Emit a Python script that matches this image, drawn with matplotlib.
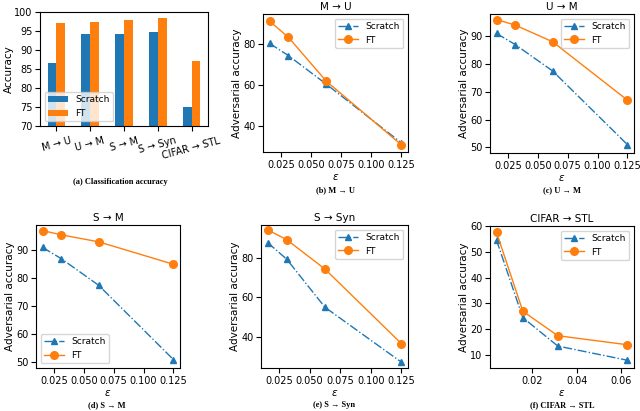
#!/usr/bin/env python3
"""Clean accuracy bars plus adversarial accuracy curves for five transfer tasks."""

import matplotlib

matplotlib.use("Agg")
import matplotlib.pyplot as plt
import numpy as np

BLUE = "#1f77b4"
ORANGE = "#ff7f0e"

# (a) classification accuracy
tasks = ["M → U", "U → M", "S → M", "S → Syn", "CIFAR → STL"]
acc_scratch = [86.7, 94.3, 94.3, 94.8, 75.0]
acc_ft = [97.2, 97.3, 97.8, 98.3, 87.2]

# adversarial accuracy vs epsilon
eps_digits = [0.015625, 0.03125, 0.0625, 0.125]
eps_cifar = [0.0039, 0.0157, 0.0314, 0.0627]
digit_ticks = [0.025, 0.050, 0.075, 0.100, 0.125]
cifar_ticks = [0.02, 0.04, 0.06]

mu_scratch = [80.5, 74.5, 60.5, 31.5]
mu_ft = [91.5, 83.5, 62.0, 30.5]
um_scratch = [91.0, 87.0, 77.5, 51.0]
um_ft = [96.0, 94.0, 88.0, 67.0]
sm_scratch = [91.0, 87.0, 77.5, 51.0]
sm_ft = [97.0, 95.5, 93.0, 85.0]
ssyn_scratch = [88.0, 79.5, 55.0, 27.0]
ssyn_ft = [94.5, 89.5, 74.5, 36.5]
cs_scratch = [54.5, 24.5, 13.5, 8.0]
cs_ft = [57.5, 27.0, 17.5, 14.0]

W, H = 640, 411


def rect(x0, x1, y0, y1):
    return [x0 / W, 1 - y1 / H, (x1 - x0) / W, (y1 - y0) / H]


fig = plt.figure(figsize=(6.4, 4.11), dpi=100)

# bar panel
ax = fig.add_axes(rect(40, 208, 12, 126))
x = np.arange(len(tasks))
bw = 0.26
ax.bar(x - bw / 2, acc_scratch, bw, color=BLUE, label="Scratch")
ax.bar(x + bw / 2, acc_ft, bw, color=ORANGE, label="FT")
ax.set_ylim(70, 100)
ax.set_yticks([70, 75, 80, 85, 90, 95, 100])
ax.set_xticks(x)
ax.set_xticklabels(tasks, rotation=15, fontsize=7)
ax.tick_params(axis="y", labelsize=7, pad=2)
ax.set_ylabel("Accuracy", fontsize=7.5, labelpad=0)
ax.legend(loc="lower left", fontsize=6.5, handlelength=2.2)

line_panels = [
    (rect(263, 408, 14, 152), eps_digits, mu_scratch, mu_ft, "M → U", "upper right", [40, 60, 80], (27, 95)),
    (rect(490, 634, 14, 153), eps_digits, um_scratch, um_ft, "U → M", "upper right", [50, 60, 70, 80, 90], (48, 98)),
    (rect(36, 180, 225, 368), eps_digits, sm_scratch, sm_ft, "S → M", "lower left", [50, 60, 70, 80, 90], (48, 99)),
    (rect(261, 408, 225, 368), eps_digits, ssyn_scratch, ssyn_ft, "S → Syn", "upper right", [40, 60, 80], (24, 97)),
    (rect(490, 634, 226, 368), eps_cifar, cs_scratch, cs_ft, "CIFAR → STL", "upper right", [10, 20, 30, 40, 50, 60], (5, 60)),
]

for pos, eps, scratch, ft, title, loc, yticks, ylim in line_panels:
    ax = fig.add_axes(pos)
    ax.plot(eps, scratch, "-.", marker="^", color=BLUE, lw=1, ms=5, label="Scratch")
    ax.plot(eps, ft, "-", marker="o", color=ORANGE, lw=1, ms=5.5, label="FT")
    ax.set_title(title, fontsize=7.5, pad=3)
    ax.set_yticks(yticks)
    ax.set_ylim(*ylim)
    ax.set_xticks(cifar_ticks if eps is eps_cifar else digit_ticks)
    ax.tick_params(labelsize=7, pad=2)
    ax.set_xlabel(r"$\varepsilon$", fontsize=7.5, labelpad=2)
    ax.set_ylabel("Adversarial accuracy", fontsize=7.5, labelpad=1)
    ax.legend(loc=loc, fontsize=6.5, handlelength=2.2)

cap = dict(fontsize=6, fontweight="bold", family="Liberation Serif", ha="center", va="center")
fig.text(120 / W, 1 - 182 / H, "(a) Classification accuracy", **cap)
fig.text(335 / W, 1 - 190 / H, "(b) M → U", **cap)
fig.text(562 / W, 1 - 190 / H, "(c) U → M", **cap)
fig.text(107 / W, 1 - 405 / H, "(d) S → M", **cap)
fig.text(334 / W, 1 - 405 / H, "(e) S → Syn", **cap)
fig.text(562 / W, 1 - 405 / H, "(f) CIFAR → STL", **cap)

fig.savefig("out.png", dpi=100)
